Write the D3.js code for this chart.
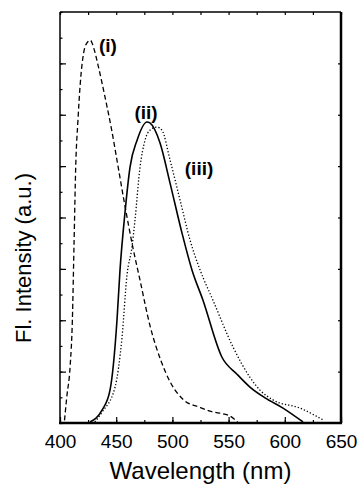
<!DOCTYPE html>
<html>
<head>
<meta charset="utf-8">
<script src="https://cdn.jsdelivr.net/npm/d3@7"></script>
<style>
  body { margin: 0; background: #fff; }
  svg { display: block; font-family: "Liberation Sans", Arial, sans-serif; }
</style>
</head>
<body>
<div class="chart-wrapper"></div>
<script>
// wavelength (nm) / intensity (a.u.)
const waveI = [404, 406, 409, 411, 412.5, 414, 416, 418, 421, 424, 427, 430, 434, 440, 446, 452, 458, 465, 471, 480, 490, 498, 510, 525, 535, 545, 550, 558];
const valI  = [0.05, 0.5, 1.1, 2.0, 3.5, 5.0, 5.9, 6.6, 7.2, 7.4, 7.45, 7.3, 6.95, 6.35, 5.7, 4.95, 4.2, 3.4, 2.8, 1.9, 1.2, 0.8, 0.45, 0.3, 0.22, 0.18, 0.15, 0.02];

const waveII = [426.7, 437.4, 444.5, 450.7, 453.4, 457.8, 462.3, 468.5, 477.4, 480, 489, 497.9, 508.5, 517.4, 527.2, 544.1, 557.5, 569, 582.4, 598.4, 616.2];
const valII  = [0.02, 0.25, 0.64, 2.0, 2.98, 4.09, 4.98, 5.5, 5.86, 5.84, 5.45, 4.67, 3.7, 2.98, 2.39, 1.28, 0.95, 0.7, 0.49, 0.29, 0.02];

const waveIII = [431, 437.4, 449, 455.2, 459.6, 464, 466.7, 471.2, 475.6, 480, 486.3, 490.7, 497.9, 506.8, 515.7, 524.6, 536.1, 553.9, 569, 577.9, 589.5, 613.5, 634];
const valIII  = [0.02, 0.21, 0.7, 1.67, 2.88, 3.42, 3.95, 4.98, 5.5, 5.7, 5.76, 5.7, 5.12, 4.34, 3.56, 2.98, 2.39, 1.48, 0.89, 0.64, 0.45, 0.29, 0.06];

const xTicks = [400, 450, 500, 550, 600, 650];
const curveLabels = ['(i)', '(ii)', '(iii)'];
const labelWave = [442.7, 476.5, 523.7];
const labelVal = [7.35, 6.05, 4.96];

const W = 359, H = 485;
const margin = { top: 12, right: 18, bottom: 62, left: 60 };
const iw = W - margin.left - margin.right,
  ih = H - margin.top - margin.bottom;

const svg = d3.select('.chart-wrapper')
  .append('svg')
  .attr('width', W)
  .attr('height', H);

const g = svg.append('g')
  .attr('transform', 'translate(' + margin.left + ',' + margin.top + ')');

const x = d3.scaleLinear().domain([400, 650]).range([0, iw]);
const y = d3.scaleLinear().domain([0, 8]).range([ih, 0]);

// ticks, all pointing inwards
const minorX = d3.range(400, 651, 25);
const minorY = d3.range(0, 8.01, 0.5);

g.append('g')
  .attr('transform', 'translate(0,' + ih + ')')
  .call(d3.axisBottom(x).tickValues(minorX).tickSize(-3).tickFormat(''))
  .call(a => a.select('.domain').remove());
g.append('g')
  .attr('transform', 'translate(0,' + ih + ')')
  .call(d3.axisBottom(x).tickValues(xTicks).tickSize(-6).tickPadding(12).tickFormat(d3.format('d')))
  .call(a => a.select('.domain').remove())
  .call(a => a.selectAll('text').attr('font-size', '19px').attr('fill', '#000'));

g.append('g')
  .call(d3.axisTop(x).tickValues(minorX).tickSize(-3).tickFormat(''))
  .call(a => a.select('.domain').remove());

g.append('g')
  .call(d3.axisLeft(y).tickValues(minorY).tickSize(-2.5).tickFormat(''))
  .call(a => a.select('.domain').remove());
g.append('g')
  .call(d3.axisLeft(y).tickValues(d3.range(1, 8)).tickSize(-6).tickFormat(''))
  .call(a => a.select('.domain').remove());
g.append('g')
  .attr('transform', 'translate(' + iw + ',0)')
  .call(d3.axisRight(y).tickValues(d3.range(1, 8)).tickSize(-3).tickFormat(''))
  .call(a => a.select('.domain').remove());

g.selectAll('.tick line').attr('stroke', '#000').attr('stroke-width', 1.2);

// frame
g.append('line').attr('x1', 0).attr('x2', 0).attr('y1', 0).attr('y2', ih)
  .attr('stroke', '#000').attr('stroke-width', 1.5);
g.append('line').attr('x1', 0).attr('x2', iw).attr('y1', 0).attr('y2', 0)
  .attr('stroke', '#000').attr('stroke-width', 1.5);
g.append('line').attr('x1', iw).attr('x2', iw).attr('y1', 0).attr('y2', ih)
  .attr('stroke', '#000').attr('stroke-width', 2.5);
g.append('line').attr('x1', -1).attr('x2', iw + 1).attr('y1', ih).attr('y2', ih)
  .attr('stroke', '#000').attr('stroke-width', 2.5);

// spectra
const line = d3.line()
  .x(d => x(d[0]))
  .y(d => y(d[1]))
  .curve(d3.curveMonotoneX);

const series = [
  { w: waveI, v: valI, dash: '5,3', sw: 1.3 },
  { w: waveII, v: valII, dash: null, sw: 1.6 },
  { w: waveIII, v: valIII, dash: '1.3,2', sw: 1.3 }
];

series.forEach(function (s) {
  g.append('path')
    .datum(d3.zip(s.w, s.v))
    .attr('fill', 'none')
    .attr('stroke', '#000')
    .attr('stroke-width', s.sw)
    .attr('stroke-dasharray', s.dash)
    .attr('d', line);
});

// curve labels
g.selectAll('.clabel')
  .data(curveLabels)
  .enter()
  .append('text')
  .attr('class', 'clabel')
  .attr('x', (d, i) => x(labelWave[i]))
  .attr('y', (d, i) => y(labelVal[i]))
  .attr('dy', '0.35em')
  .attr('text-anchor', 'middle')
  .attr('font-size', '19px')
  .attr('font-weight', '700')
  .text(d => d);

// axis titles
svg.append('text')
  .attr('x', margin.left + iw / 2)
  .attr('y', 479)
  .attr('text-anchor', 'middle')
  .attr('font-size', '24px')
  .text('Wavelength (nm)');

svg.append('text')
  .attr('transform', 'translate(31,258) rotate(-90)')
  .attr('text-anchor', 'middle')
  .attr('font-size', '22px')
  .text('Fl. Intensity (a.u.)');
</script>
</body>
</html>
